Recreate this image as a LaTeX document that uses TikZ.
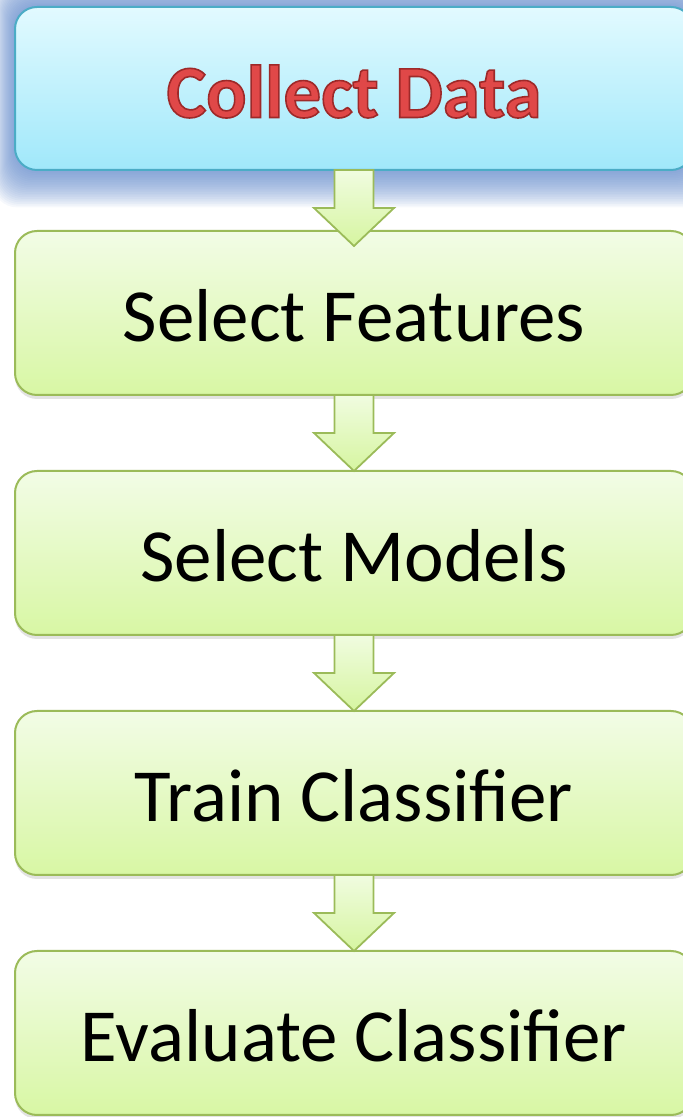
\documentclass[tikz,border=0pt]{standalone}
\usepackage{fontspec}
\setmainfont{Carlito}
\usetikzlibrary{positioning,calc,shadows}
\pgfdeclarelayer{background}
\pgfsetlayers{background,main}
\definecolor{bluetop}{HTML}{E2FAFF}
\definecolor{bluebottom}{HTML}{A0E8FA}
\definecolor{blueborder}{HTML}{4BACC6}
\definecolor{glowcolor}{HTML}{5B84C8}
\definecolor{greentop}{HTML}{F2FCE6}
\definecolor{greenbottom}{HTML}{D8F7A4}
\definecolor{greenborder}{HTML}{9BBB59}
\definecolor{arrowtop}{HTML}{F0FCE0}
\definecolor{arrowbottom}{HTML}{D6F5A0}
\definecolor{titlered}{HTML}{E04848}
\definecolor{titleedge}{HTML}{9E2A2A}

\tikzset{
  stagebox/.style={rectangle,rounded corners=22pt,minimum width=678pt,minimum height=164pt,
    inner sep=0pt,outer sep=0pt,line width=2pt,text height=58pt,text depth=0pt,
    font=\fontsize{75}{80}\selectfont},
  greenbox/.style={stagebox,draw=greenborder,top color=greentop,bottom color=greenbottom,
    drop shadow={opacity=0.22,shadow xshift=0pt,shadow yshift=-4pt}},
  bluebox/.style={stagebox,minimum height=163pt,draw=blueborder,top color=bluetop,bottom color=bluebottom},
  blockarrow/.style={draw=greenborder,line width=1.8pt,line join=miter,top color=arrowtop,bottom color=arrowbottom,
    to path={let \p1=(\tikztostart),\p2=(\tikztotarget) in
      (\x2-19.5pt,\y1)--(\x2-19.5pt,\y2+38pt)--(\x2-40pt,\y2+38pt)--(\x2,\y2)
      --(\x2+40pt,\y2+38pt)--(\x2+19.5pt,\y2+38pt)--(\x2+19.5pt,\y1)--cycle}}
}

\begin{document}
\begin{tikzpicture}[x=1pt,y=1pt]
  \path[use as bounding box,clip](0,0)rectangle(683,1117);
  %步骤框
  \node[bluebox] (data) at (354,1028.5)
    {\bfseries\color{titlered}\special{pdf:literal direct 2 Tr 1.6 w 0.62 0.16 0.16 RG}Collect Data\special{pdf:literal direct 0 Tr}};
  \node[greenbox,below=61pt of data] (features) {Select Features};
  \node[greenbox,below=76pt of features] (models) {Select Models};
  \node[greenbox,below=76pt of models] (train) {Train Classifier};
  \node[greenbox,below=76pt of train] (evaluate) {Evaluate Classifier};
  %蓝色光晕
  \begin{pgfonlayer}{background}
    \foreach \g in {1,...,22}
      \fill[glowcolor,opacity=0.055,rounded corners=24pt]
        ($(data.south west)+(-\g pt,-1.7*\g pt)$)rectangle($(data.north east)+(\g pt,1.4*\g pt)$);
  \end{pgfonlayer}
  %箭头
  \draw[blockarrow](data.south)to([yshift=-15pt]features.north);
  \draw[blockarrow](features.south)to(models.north);
  \draw[blockarrow](models.south)to(train.north);
  \draw[blockarrow](train.south)to(evaluate.north);
\end{tikzpicture}
\end{document}
